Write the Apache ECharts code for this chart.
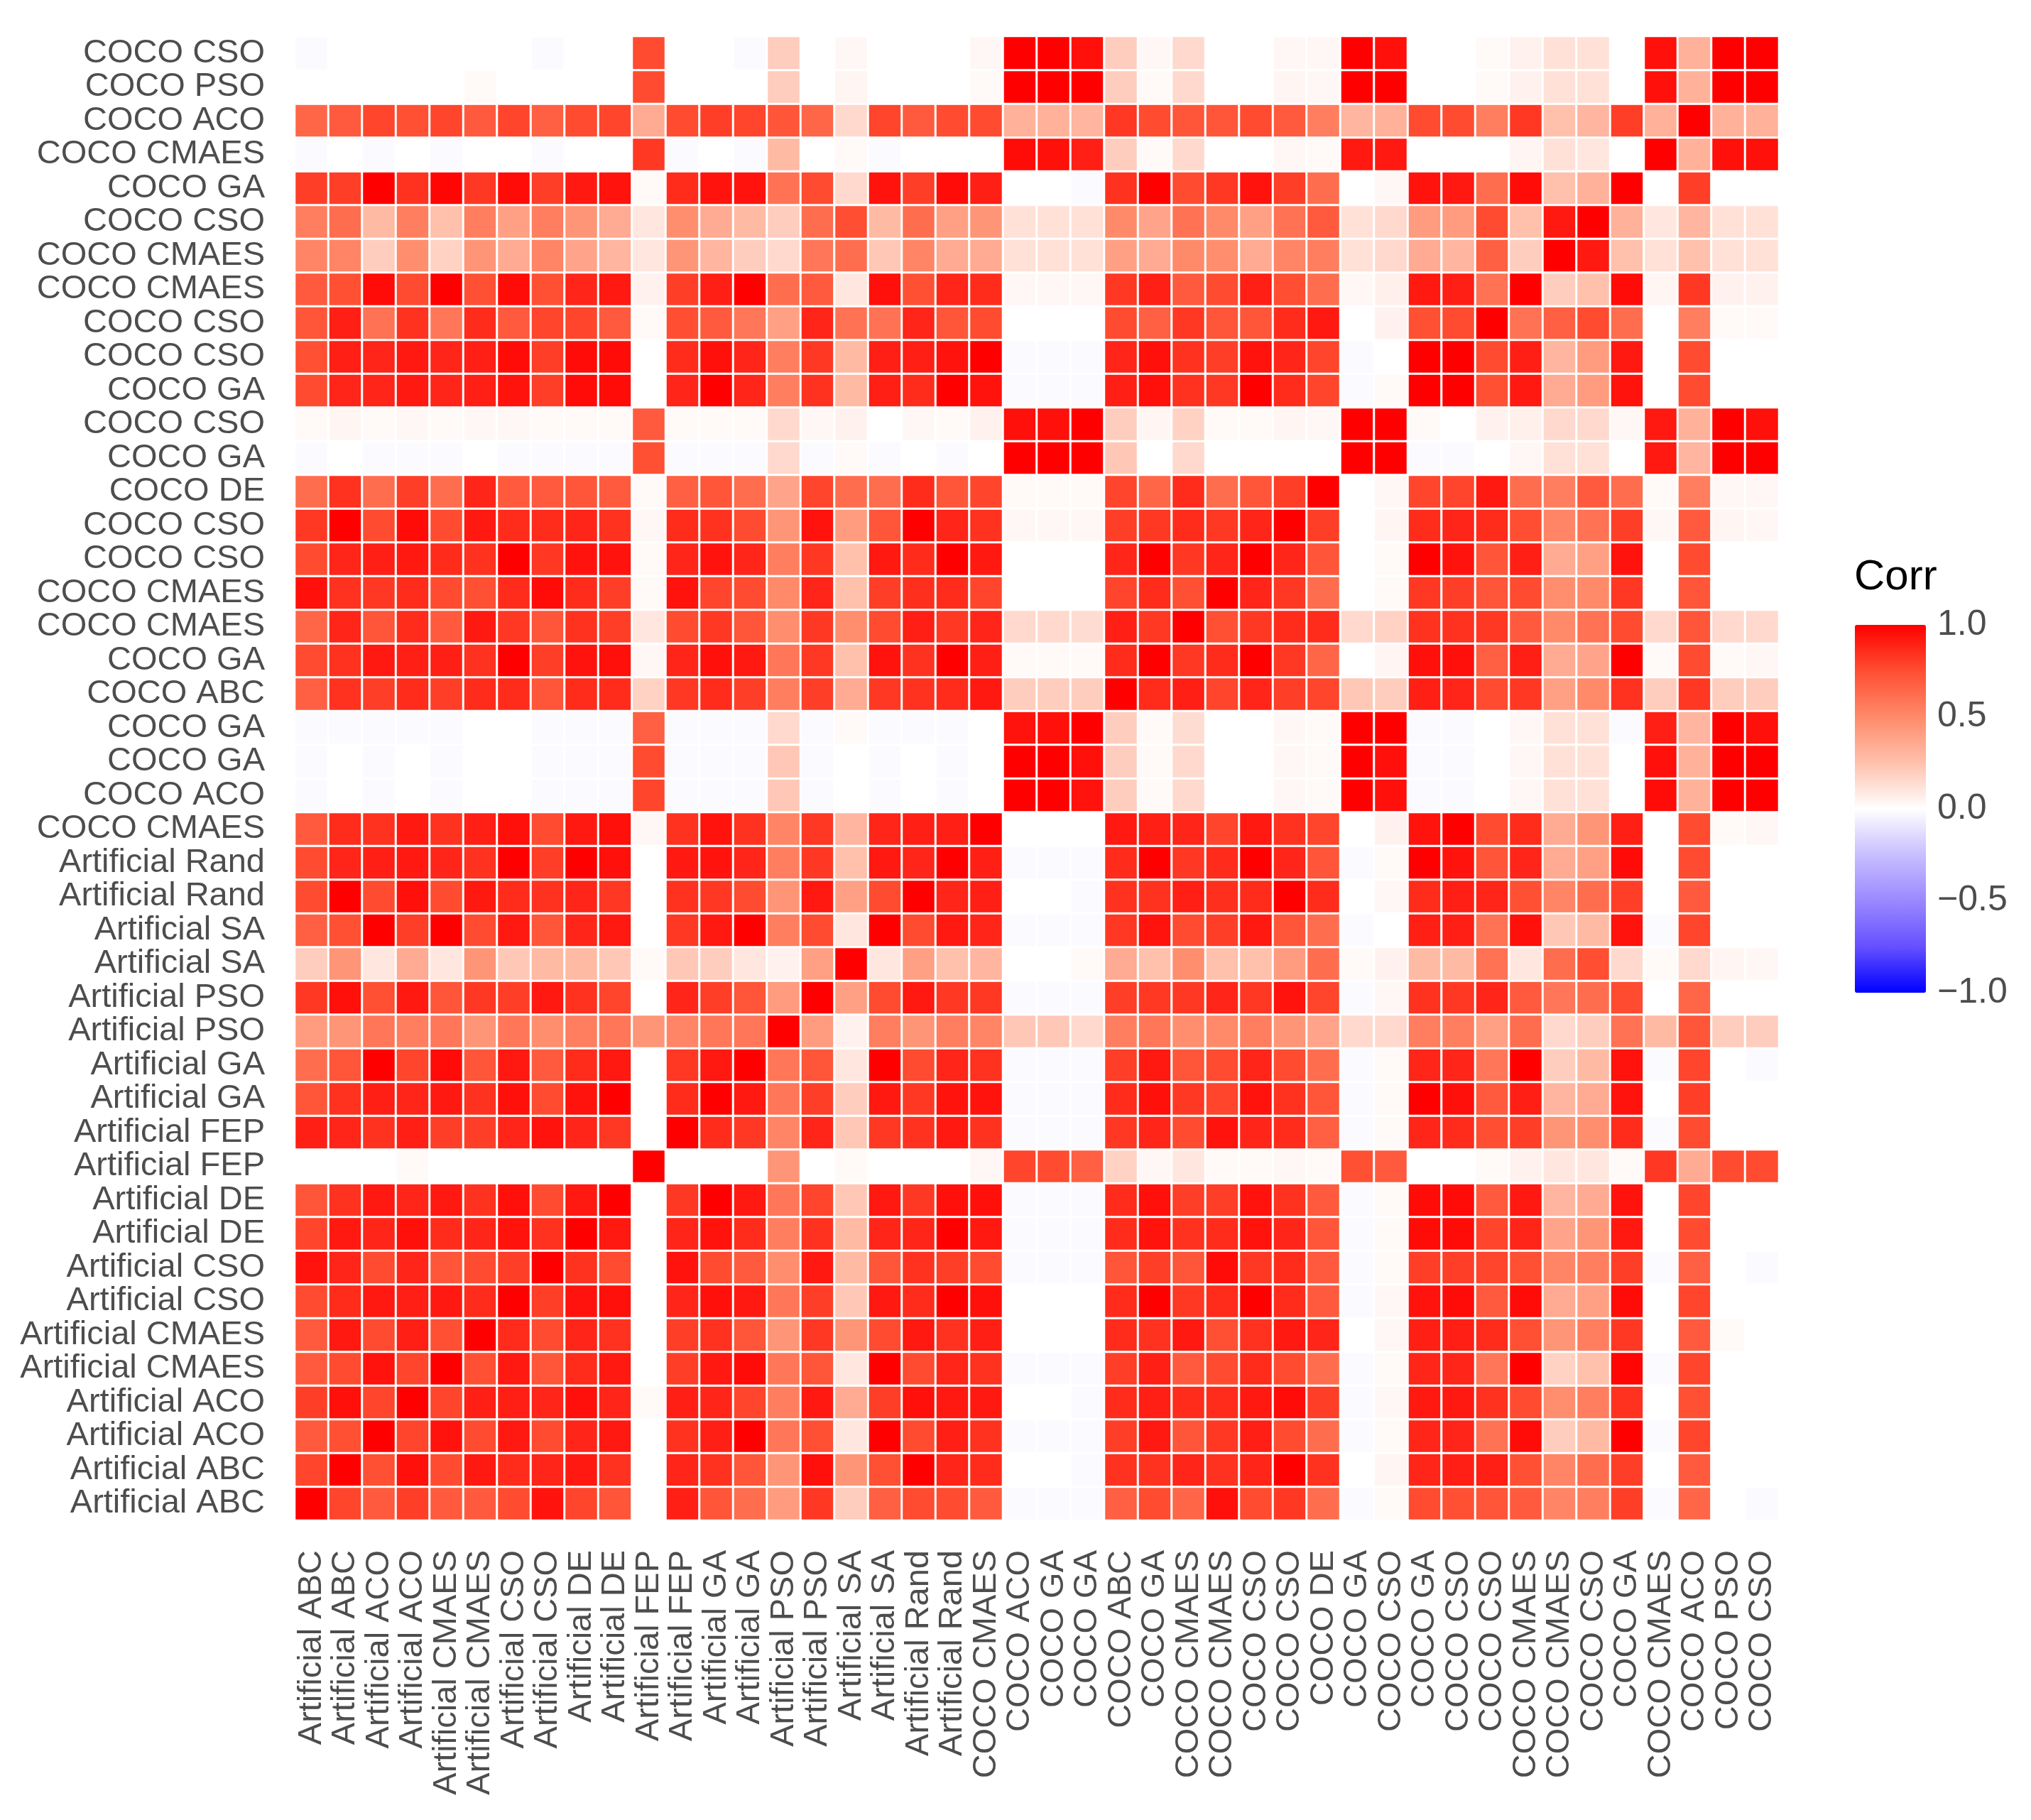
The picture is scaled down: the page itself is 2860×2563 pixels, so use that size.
<!DOCTYPE html>
<html lang="en">
<head>
    <meta charset="UTF-8">
    <title>Corr heatmap</title>
    <script src="https://cdn.jsdelivr.net/npm/echarts@6/dist/echarts.min.js"></script>
    <style>
        html, body { margin: 0; padding: 0; background: #fff; }
        #chart { width: 2860px; height: 2563px; }
    </style>
</head>
<body>
    <div id="chart"></div>
    <script>
        // labels, same order on both axes (index 0 = bottom / left)
        const labels = [
            'Artificial ABC', 'Artificial ABC', 'Artificial ACO', 'Artificial ACO',
            'Artificial CMAES', 'Artificial CMAES', 'Artificial CSO', 'Artificial CSO',
            'Artificial DE', 'Artificial DE', 'Artificial FEP', 'Artificial FEP',
            'Artificial GA', 'Artificial GA', 'Artificial PSO', 'Artificial PSO',
            'Artificial SA', 'Artificial SA', 'Artificial Rand', 'Artificial Rand',
            'COCO CMAES', 'COCO ACO', 'COCO GA', 'COCO GA', 'COCO ABC', 'COCO GA',
            'COCO CMAES', 'COCO CMAES', 'COCO CSO', 'COCO CSO', 'COCO DE', 'COCO GA',
            'COCO CSO', 'COCO GA', 'COCO CSO', 'COCO CSO', 'COCO CMAES', 'COCO CMAES',
            'COCO CSO', 'COCO GA', 'COCO CMAES', 'COCO ACO', 'COCO PSO', 'COCO CSO'
        ];

        // lower triangle of the correlation matrix, row i holds columns 0..i
        const lower = [
            [1],
            [.78,1],
            [.7,.74,1],
            [.8,.95,.78,1],
            [.7,.76,.94,.78,1],
            [.7,.92,.76,.9,.74,1],
            [.76,.86,.92,.9,.92,.86,1],
            [.94,.88,.76,.88,.72,.76,.8,1],
            [.78,.92,.88,.95,.86,.88,.94,.84,1],
            [.72,.84,.92,.88,.92,.84,.95,.76,.92,1],
            [0,0,0,.02,0,0,0,0,0,0,1],
            [.9,.88,.84,.9,.8,.8,.88,.94,.88,.82,0,1],
            [.72,.84,.9,.88,.92,.84,.95,.76,.94,1,0,.86,1],
            [.62,.72,1,.78,.96,.72,.92,.7,.86,.92,0,.82,.92,1],
            [.42,.45,.58,.55,.58,.45,.58,.48,.55,.58,.45,.52,.58,.58,1],
            [.82,.95,.74,.92,.72,.82,.8,.92,.84,.78,0,.88,.8,.72,.42,1],
            [.2,.45,.1,.35,.1,.45,.22,.28,.28,.22,.02,.22,.2,.1,.05,.4,1],
            [.68,.74,1,.8,1,.76,.92,.72,.88,.92,0,.82,.92,1,.55,.76,.1,1],
            [.76,1,.76,.95,.76,.92,.86,.84,.88,.82,0,.84,.82,.76,.45,.92,.4,.76,1],
            [.76,.88,.9,.92,.88,.84,1,.8,1,.95,0,.92,.94,.88,.55,.82,.25,.92,.88,1],
            [.7,.86,.84,.92,.84,.9,.95,.76,.92,.95,.03,.84,.94,.84,.52,.82,.3,.88,.9,.9,1],
            [-.02,0,-.02,0,-.02,0,0,-.02,-.02,-.02,.78,-.02,-.02,-.02,.22,-.02,0,-.02,0,-.02,0,1],
            [-.02,0,-.02,0,-.02,0,0,-.02,-.02,-.02,.76,-.02,-.02,-.02,.22,-.02,0,-.02,0,-.02,0,1,1],
            [-.02,-.02,-.02,-.02,-.02,0,0,-.02,-.02,-.02,.68,-.02,-.02,-.02,.15,-.02,.02,-.02,-.02,-.02,0,.94,.95,1],
            [.68,.84,.8,.86,.8,.86,.86,.72,.86,.86,.18,.82,.86,.8,.55,.8,.35,.82,.84,.86,.92,.2,.2,.2,1],
            [.76,.84,.92,.9,.9,.84,1,.8,.94,.95,.03,.88,.95,.92,.58,.82,.25,.94,.84,1,.9,.02,.02,.02,.86,1],
            [.65,.88,.72,.86,.7,.92,.82,.72,.84,.8,.1,.76,.82,.72,.48,.82,.48,.76,.9,.82,.88,.15,.15,.14,.9,.82,1],
            [.95,.84,.82,.86,.76,.74,.86,.96,.86,.8,.02,.94,.78,.76,.5,.88,.25,.8,.85,.86,.78,0,0,0,.78,.86,.74,1],
            [.76,.88,.9,.92,.86,.84,1,.82,.94,.94,.02,.88,.94,.88,.55,.82,.25,.92,.86,1,.92,0,0,0,.88,1,.82,.88,1],
            [.82,1,.76,.96,.76,.92,.86,.86,.88,.84,.03,.86,.84,.76,.45,.94,.42,.72,1,.88,.84,.03,.03,.03,.8,.82,.86,.82,.88,1],
            [.62,.84,.62,.8,.62,.88,.7,.7,.72,.7,.02,.68,.72,.62,.38,.78,.62,.62,.86,.72,.78,.02,.02,.02,.78,.65,.86,.62,.72,.8,1],
            [-.02,0,-.02,-.02,-.02,0,-.02,-.02,-.02,-.02,.74,-.02,-.02,-.02,.15,-.02,.02,-.02,0,-.02,0,1,1,1,.22,0,.15,0,0,0,0,1],
            [.02,.04,.02,.03,.02,.03,.03,.02,.02,.02,.7,.02,.02,.02,.15,.03,.05,0,.03,.02,.05,.95,.95,1,.2,.04,.18,.02,.02,.04,.03,1,1],
            [.76,.88,.88,.92,.88,.9,.94,.8,.96,.96,0,.88,1,.88,.55,.84,.28,.9,.86,1,.94,-.02,-.02,-.02,.9,.95,.84,.82,1,.86,.78,-.02,.02,1],
            [.74,.9,.88,.92,.88,.9,.96,.8,.96,.96,0,.86,.95,.88,.55,.82,.28,.9,.9,.94,1,-.02,-.02,-.02,.88,.95,.84,.8,.94,.88,.78,-.02,0,1,1],
            [.72,.9,.6,.84,.58,.86,.7,.78,.78,.7,.02,.75,.7,.58,.4,.88,.6,.6,.88,.72,.76,0,0,0,.76,.68,.82,.72,.72,.86,.92,0,.05,.74,.76,1],
            [.7,.74,.96,.76,1,.74,.96,.74,.88,.92,.05,.8,.9,1,.62,.7,.1,.95,.74,.88,.86,.03,.03,.03,.82,.9,.7,.76,.9,.75,.62,.03,.06,.92,.9,.6,1],
            [.52,.52,.2,.48,.18,.45,.35,.52,.38,.3,.1,.45,.3,.2,.15,.58,.62,.22,.52,.35,.35,.12,.12,.12,.4,.35,.5,.48,.35,.52,.55,.12,.15,.35,.3,.68,.2,1],
            [.55,.62,.28,.55,.25,.55,.4,.55,.45,.35,.1,.48,.35,.28,.2,.62,.75,.28,.62,.4,.45,.12,.12,.12,.5,.38,.6,.5,.4,.6,.7,.12,.15,.42,.42,.76,.25,.92,1],
            [.8,.8,1,.84,.98,.82,.96,.8,.92,.94,.02,.86,.94,.94,.6,.76,.15,.94,.8,.96,.9,0,0,-.02,.84,1,.76,.82,.94,.8,.62,0,.03,.94,.92,.62,.96,.25,.32,1],
            [-.02,0,-.02,0,-.02,0,0,-.02,0,0,.82,-.02,0,-.02,.28,0,.02,-.02,0,0,0,.96,.95,.9,.2,.02,.15,0,0,.03,.02,.92,.92,0,0,0,.04,.12,.1,0,1],
            [.65,.7,.78,.74,.78,.7,.78,.68,.76,.78,.35,.76,.8,.78,.72,.65,.15,.78,.7,.76,.76,.32,.32,.3,.82,.76,.72,.72,.76,.7,.55,.3,.32,.76,.76,.55,.82,.25,.3,.8,.32,1],
            [0,0,0,0,0,.02,0,0,0,0,.76,0,0,0,.2,0,.04,0,0,0,.02,1,1,1,.2,.02,.15,0,0,.04,.03,1,1,0,0,.02,.05,.12,.12,0,.95,.32,1],
            [-.02,0,0,0,0,0,0,-.02,0,0,.76,0,0,-.02,.2,0,.03,0,0,0,.03,1,1,.95,.2,.03,.15,0,0,.03,.03,1,.95,0,0,.02,.05,.12,.12,0,.95,.32,1,1]
        ];

        const legendTicks = [-1, -0.5, 0, 0.5, 1];

        // full symmetric cell list [x, y, value]
        let cells = [];
        for (let i = 0; i < labels.length; i++) {
            for (let j = 0; j <= i; j++) {
                let v = lower[i][j];
                cells.push([j, i, v]);
                if (i !== j) cells.push([i, j, v]);
            }
        }

        const txt = '#4d4d4d';
        const font = '"Liberation Sans", Arial, sans-serif';
        let chart = echarts.init(document.getElementById('chart'));

        let option = {
            backgroundColor: '#fff',
            animation: false,
            textStyle: { fontFamily: font },
            title: {
                text: 'Corr', left: 2606, top: 778,
                textStyle: { fontSize: 60, fontWeight: 'normal', color: '#000', fontFamily: font }
            },
            grid: [
                { left: 415, top: 51, width: 2090, height: 2090 },
                { left: 2612, top: 880, width: 100, height: 518 }
            ],
            xAxis: [{
                type: 'category', data: labels, gridIndex: 0,
                axisLine: { show: false },
                axisTick: { show: false },
                axisLabel: { rotate: 90, interval: 0, fontSize: 47, color: txt, margin: 42 },
                splitLine: { show: false }
            }, {
                type: 'value', gridIndex: 1, show: false, min: 0, max: 1
            }],
            yAxis: [{
                type: 'category', data: labels, gridIndex: 0,
                axisLine: { show: false },
                axisTick: { show: false },
                axisLabel: { interval: 0, fontSize: 47, color: txt, margin: 42 },
                splitLine: { show: false }
            }, {
                type: 'value', gridIndex: 1, position: 'right',
                min: -1, max: 1, interval: 0.5,
                axisLine: { show: false }, axisTick: { show: false }, splitLine: { show: false },
                axisLabel: {
                    fontSize: 50, color: txt, margin: 16,
                    formatter: v => (v < 0 ? '\u2212' : '') + Math.abs(v).toFixed(1)
                }
            }],
            visualMap: {
                type: 'continuous', min: -1, max: 1, seriesIndex: 0,
                left: 2612, top: 880, itemWidth: 100, itemHeight: 518,
                padding: 0, text: ['', ''], showLabel: false, calculable: false,
                inRange: {
                    color: ['#0000FF', '#6650FF', '#9A88FF', '#C8BEFF', '#FFFFFF',
                            '#FFC0AC', '#FF8A6A', '#FF4E32', '#FF0000']
                }
            },
            series: [{
                type: 'heatmap', xAxisIndex: 0, yAxisIndex: 0,
                data: cells,
                itemStyle: { borderColor: '#fff', borderWidth: 3 },
                emphasis: { disabled: true }
            }, {
                // white tick marks on the colour bar
                type: 'scatter', xAxisIndex: 1, yAxisIndex: 1, silent: true,
                symbol: 'rect', symbolSize: [20, 3],
                itemStyle: { color: '#fff' },
                data: legendTicks.flatMap(t => [[0.1, t], [0.9, t]])
            }]
        };

        chart.setOption(option);
    </script>
</body>
</html>
